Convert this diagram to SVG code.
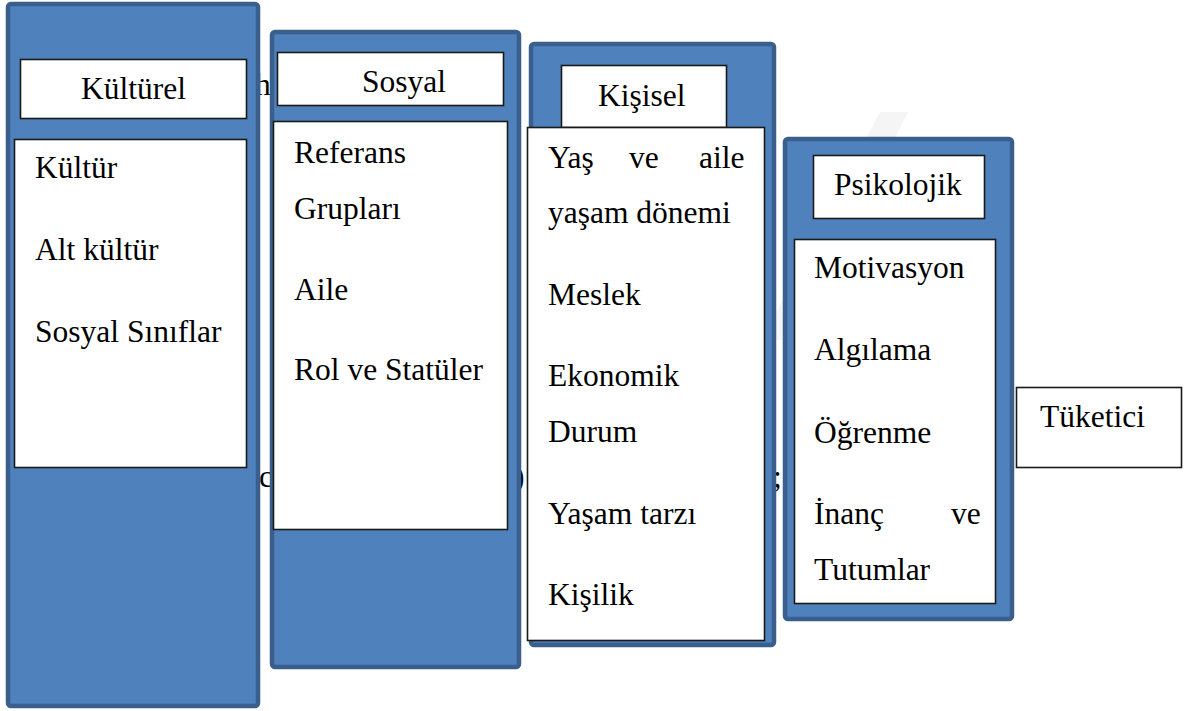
<svg xmlns="http://www.w3.org/2000/svg" width="1197" height="711" viewBox="0 0 1197 711">
  <style>
    .panel { fill: #4f81bd; stroke: #3a5f8d; stroke-width: 4.5; }
    .box { fill: #ffffff; stroke: #1a1a1a; stroke-width: 1.6; }
    .t { font-family: "Liberation Serif", "Times New Roman", serif; font-size: 31.5px; fill: #000000; }
    .bg { font-family: "Liberation Serif", "Times New Roman", serif; font-size: 31.5px; fill: #000000; }
  </style>

  <rect x="0" y="0" width="1197" height="711" fill="#ffffff"/>

  <!-- faint page watermark stripe -->
  <polygon points="880,112 908,112 790,340 762,340" fill="#f5f5f5"/>

  <!-- body text of the page showing through the gaps between panels -->
  <g id="page-text">
    <text class="bg" x="255" y="95">h</text>
    <text class="bg" x="259" y="487">c</text>
    <text class="bg" x="514" y="487">)</text>
    <text class="bg" x="773" y="487">;</text>
  </g>

  <!-- Kültürel -->
  <g id="kulturel">
    <rect class="panel" x="8" y="4" width="250" height="702" rx="3"/>
    <rect class="box" x="20.5" y="59.5" width="226" height="59"/>
    <text class="t" x="81" y="99">Kültürel</text>
    <rect class="box" x="14.5" y="139.5" width="232" height="328"/>
    <text class="t" x="35" y="178">Kültür</text>
    <text class="t" x="35" y="260">Alt kültür</text>
    <text class="t" x="35" y="342">Sosyal Sınıflar</text>
  </g>

  <!-- Sosyal -->
  <g id="sosyal">
    <rect class="panel" x="272" y="32" width="247" height="635" rx="3"/>
    <rect class="box" x="277.5" y="52.5" width="226" height="53"/>
    <text class="t" x="362" y="92">Sosyal</text>
    <rect class="box" x="273.5" y="121.5" width="234" height="408"/>
    <text class="t" x="294" y="163">Referans</text>
    <text class="t" x="294" y="219">Grupları</text>
    <text class="t" x="294" y="300">Aile</text>
    <text class="t" x="294" y="380">Rol ve Statüler</text>
  </g>

  <!-- Kişisel -->
  <g id="kisisel">
    <rect class="panel" x="531" y="44" width="243" height="601" rx="3"/>
    <rect class="box" x="561.5" y="65.5" width="165" height="62"/>
    <text class="t" x="598" y="106">Kişisel</text>
    <rect class="box" x="527.5" y="127.5" width="237" height="513"/>
    <text class="t" x="548" y="168">Yaş</text>
    <text class="t" x="629" y="168">ve</text>
    <text class="t" x="699" y="168">aile</text>
    <text class="t" x="548" y="223">yaşam dönemi</text>
    <text class="t" x="548" y="305">Meslek</text>
    <text class="t" x="548" y="386">Ekonomik</text>
    <text class="t" x="548" y="442">Durum</text>
    <text class="t" x="548" y="524">Yaşam tarzı</text>
    <text class="t" x="548" y="605">Kişilik</text>
  </g>

  <!-- Psikolojik -->
  <g id="psikolojik">
    <rect class="panel" x="785" y="139" width="227" height="480" rx="3"/>
    <rect class="box" x="813.5" y="155.5" width="171" height="63"/>
    <text class="t" x="834" y="195">Psikolojik</text>
    <rect class="box" x="794.5" y="239.5" width="201" height="364"/>
    <text class="t" x="814" y="278">Motivasyon</text>
    <text class="t" x="814" y="360">Algılama</text>
    <text class="t" x="814" y="443">Öğrenme</text>
    <text class="t" x="814" y="524">İnanç</text>
    <text class="t" x="951" y="524">ve</text>
    <text class="t" x="814" y="580">Tutumlar</text>
  </g>

  <!-- Tüketici -->
  <g id="tuketici">
    <rect class="box" x="1016.5" y="387.5" width="165" height="80"/>
    <text class="t" x="1040" y="427">Tüketici</text>
  </g>
</svg>
